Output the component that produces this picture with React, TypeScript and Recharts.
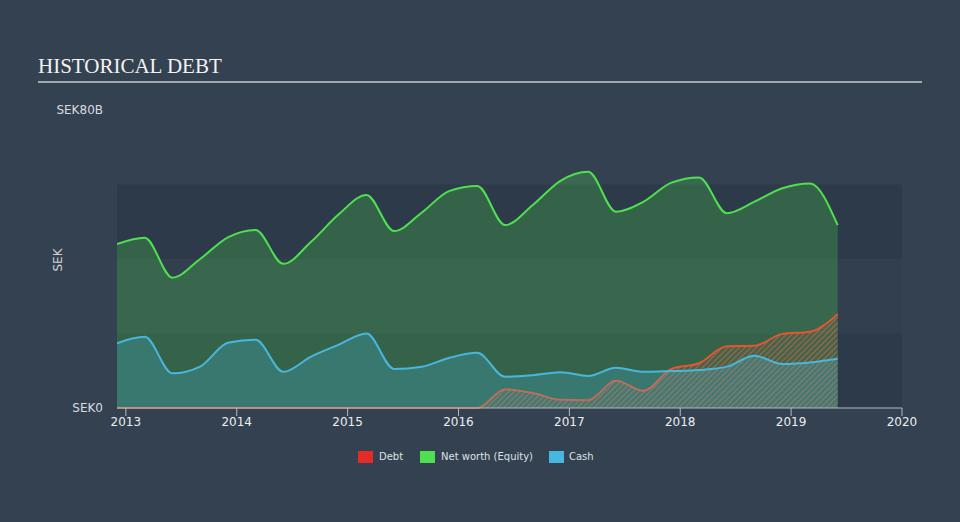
import { ComposedChart, Area, XAxis, YAxis, ReferenceArea } from 'recharts';

// quarter ends, as decimal years (Dec 2012 .. Jun 2019)
const quarters = [
  2012.92, 2013.17, 2013.42, 2013.67, 2013.92, 2014.17, 2014.42, 2014.67, 2014.92,
  2015.17, 2015.42, 2015.67, 2015.92, 2016.17, 2016.42, 2016.67, 2016.92, 2017.17,
  2017.42, 2017.67, 2017.92, 2018.17, 2018.42, 2018.67, 2018.92, 2019.17, 2019.42,
];

// SEK billions
const debt = [
  0, 0, 0, 0, 0, 0, 0, 0, 0,
  0, 0, 0, 0, 0, 5.0, 4.0, 2.2, 2.1,
  7.3, 4.6, 10.5, 12.0, 16.6, 16.7, 19.9, 20.5, 25.2,
];
const netWorth = [
  44.0, 45.7, 35.0, 40.0, 45.8, 47.8, 38.7, 44.6, 52.0,
  57.2, 47.5, 52.5, 58.3, 59.6, 49.1, 54.5, 61.0, 63.4,
  52.7, 55.4, 60.5, 61.9, 52.3, 55.4, 59.0, 60.3, 49.1,
];
const cash = [
  17.4, 19.1, 9.3, 11.1, 17.5, 18.3, 9.7, 13.8, 17.0,
  20.0, 10.5, 11.1, 13.5, 14.8, 8.4, 8.8, 9.6, 8.6,
  10.8, 9.7, 9.9, 10.2, 11.1, 14.0, 11.8, 12.2, 13.2,
];

const yearTicks = [2013, 2014, 2015, 2016, 2017, 2018, 2019, 2020];
const valueTicks = [0, 80];

const data = quarters.map((t, i) => ({
  t,
  debt: debt[i],
  netWorth: netWorth[i],
  cash: cash[i],
}));

const BG = '#344151';
const FONT = '"DejaVu Sans", Verdana, sans-serif';

const legendItems = [
  { label: 'Debt', color: '#e52b25', left: 358, textLeft: 379 },
  { label: 'Net worth (Equity)', color: '#4fe04f', left: 420, textLeft: 441 },
  { label: 'Cash', color: '#47b7de', left: 549, textLeft: 569 },
];

export default function App() {
  return (
    <div
      style={{
        position: 'absolute',
        left: 0,
        top: 0,
        width: 960,
        height: 522,
        background: BG,
        fontFamily: FONT,
        overflow: 'hidden',
      }}
    >
      <div
        style={{
          position: 'absolute',
          left: 38,
          top: 53,
          fontFamily: '"Liberation Serif", "Times New Roman", serif',
          fontSize: 21,
          color: '#f2f2f2',
          lineHeight: '26px',
          whiteSpace: 'nowrap',
        }}
      >
        HISTORICAL DEBT
      </div>
      <div
        style={{
          position: 'absolute',
          left: 38,
          top: 81,
          width: 884,
          height: 2,
          background: '#a3a8ae',
        }}
      />
      <div
        style={{
          position: 'absolute',
          left: 58,
          top: 260,
          transform: 'translate(-50%, -50%) rotate(-90deg)',
          fontSize: 12,
          color: '#d0d3d8',
        }}
      >
        SEK
      </div>

      <div style={{ position: 'absolute', left: 0, top: 0 }}>
        <ComposedChart
          width={960}
          height={522}
          data={data}
          margin={{ top: 110, right: 58, bottom: 84, left: 0 }}
        >
          <defs>
            <pattern
              id="debtHatch"
              patternUnits="userSpaceOnUse"
              width="4"
              height="4"
              patternTransform="rotate(45)"
            >
              <rect width="4" height="4" fill="rgba(229,90,55,0.12)" />
              <line x1="0" y1="0" x2="0" y2="4" stroke="rgba(236,120,90,0.75)" strokeWidth="1.3" />
            </pattern>
          </defs>
          <ReferenceArea y1={0} y2={20} fill="#2d3a49" fillOpacity={1} stroke="none" ifOverflow="visible" />
          <ReferenceArea y1={20} y2={40} fill="#323f4e" fillOpacity={1} stroke="none" ifOverflow="visible" />
          <ReferenceArea y1={40} y2={60} fill="#2d3a49" fillOpacity={1} stroke="none" ifOverflow="visible" />
          <XAxis
            dataKey="t"
            type="number"
            domain={[2012.92, 2020]}
            ticks={yearTicks}
            allowDataOverflow
            height={30}
            stroke="#b3bac4"
            tickSize={8}
            tickMargin={1}
            tick={{ fill: '#eceef0', fontSize: 12, fontFamily: FONT }}
          />
          <YAxis
            type="number"
            domain={[0, 80]}
            ticks={valueTicks}
            width={117}
            axisLine={false}
            tickLine={false}
            tickSize={6}
            tickMargin={8}
            tickFormatter={(v: number) => (v === 0 ? 'SEK0' : `SEK${v}B`)}
            tick={{ fill: '#d8dbe0', fontSize: 12, fontFamily: FONT }}
          />
          <Area
            type="monotone"
            dataKey="netWorth"
            stroke="#4fe04f"
            strokeWidth={2}
            fill="#4fe04f"
            fillOpacity={0.25}
            dot={false}
            activeDot={false}
            isAnimationActive={false}
          />
          <Area
            type="monotone"
            dataKey="debt"
            stroke="#e6552f"
            strokeWidth={2}
            fill="url(#debtHatch)"
            fillOpacity={1}
            dot={false}
            activeDot={false}
            isAnimationActive={false}
          />
          <Area
            type="monotone"
            dataKey="cash"
            stroke="#47b7de"
            strokeWidth={2}
            fill="#47b7de"
            fillOpacity={0.25}
            dot={false}
            activeDot={false}
            isAnimationActive={false}
          />
        </ComposedChart>
      </div>

      {legendItems.map((item) => (
        <div key={item.label}>
          <div
            style={{
              position: 'absolute',
              left: item.left,
              top: 451,
              width: 15,
              height: 12,
              background: item.color,
            }}
          />
          <div
            style={{
              position: 'absolute',
              left: item.textLeft,
              top: 449,
              fontSize: 10,
              lineHeight: '16px',
              color: '#dde0e4',
              whiteSpace: 'nowrap',
            }}
          >
            {item.label}
          </div>
        </div>
      ))}
    </div>
  );
}
